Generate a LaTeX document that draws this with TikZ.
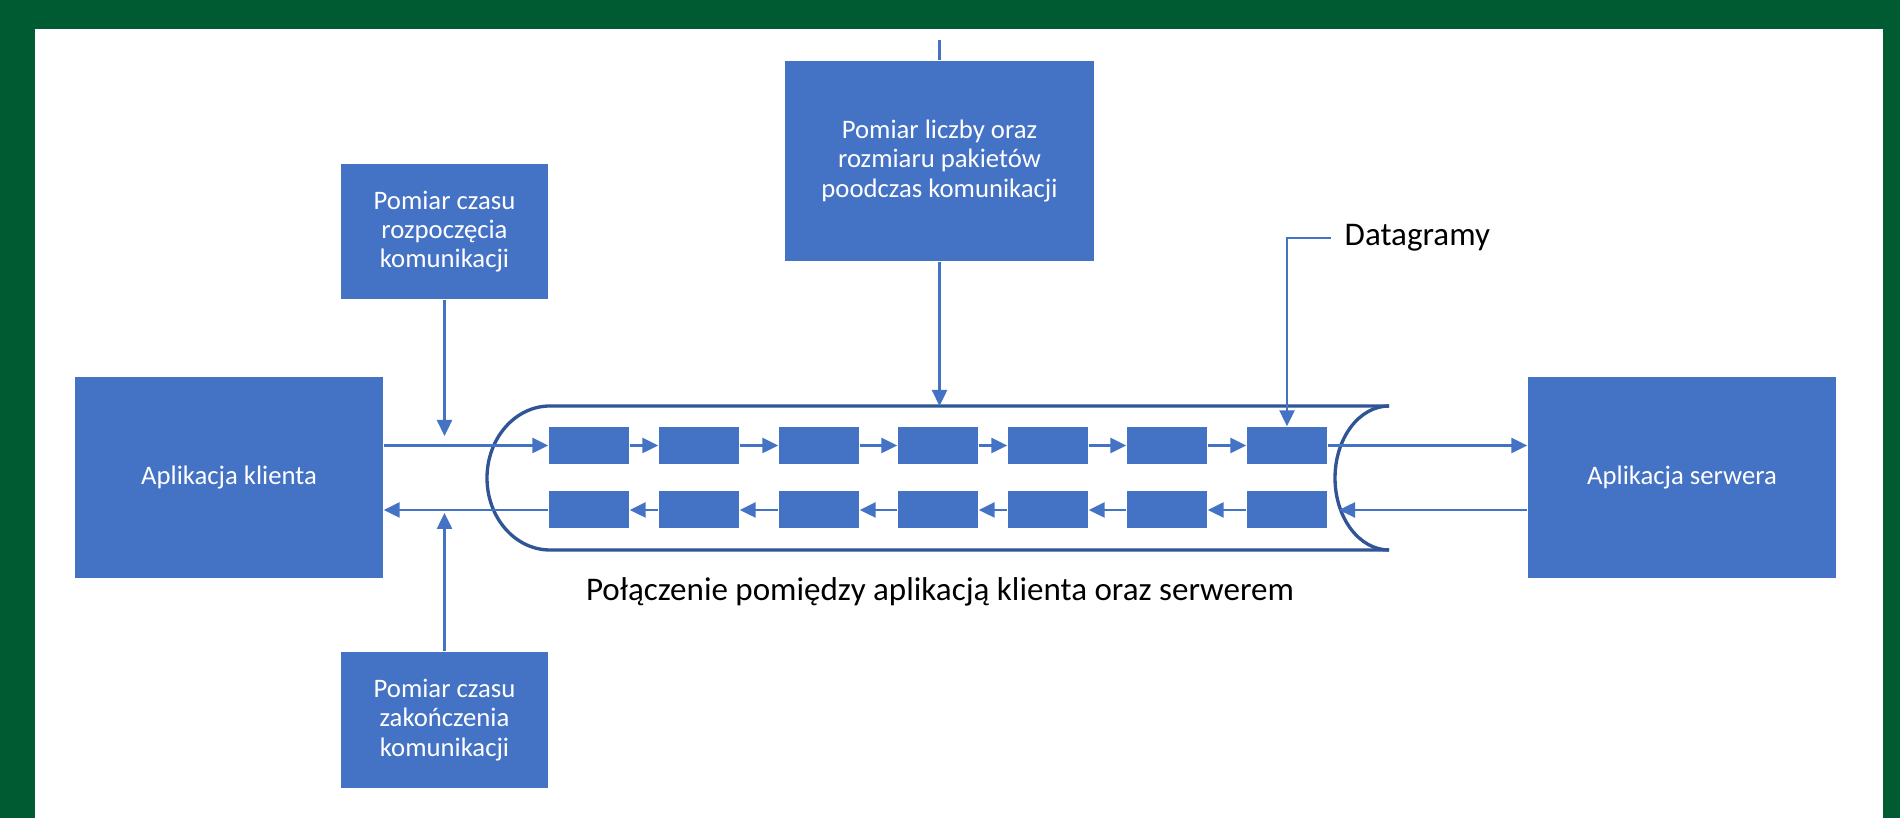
\documentclass[tikz,border=0pt]{standalone}
\usepackage{fontspec}
\setmainfont{Carlito}
\usetikzlibrary{arrows.meta}
\definecolor{bggreen}{RGB}{0,90,50}
\definecolor{boxblue}{RGB}{68,114,196}
\definecolor{tubeblue}{RGB}{47,85,151}
\tikzset{
  box/.style={fill=boxblue, text=white, align=center, inner sep=0pt, font=\fontsize{7.6}{8.3}\selectfont},
  pkt/.style={fill=boxblue, minimum width=0.8cm, minimum height=0.37cm, inner sep=0pt},
  wire/.style={draw=boxblue, line width=0.7pt},
  flow/.style={wire, -{Triangle[length=1.6mm,width=1.5mm]}},
  caption/.style={font=\fontsize{9.4}{11}\selectfont, text=black, inner sep=0pt}
}

\begin{document}
\begin{tikzpicture}
			\fill[bggreen] (0,0) rectangle (19,8.18); % Frame
			\fill[white] (0.35,0) rectangle (18.83,7.89); % Page
			\draw[tubeblue, line width=0.95pt] (13.89,4.12) -- (5.50,4.12) arc[start angle=90, end angle=270, x radius=0.63, y radius=0.72] -- (13.89,2.68); % Tube
			\draw[tubeblue, line width=0.95pt] (13.89,2.68) arc[start angle=-90, end angle=-270, x radius=0.54, y radius=0.72]; % Open end of tube
			\node[box, minimum width=3.08cm, minimum height=2.01cm] (client) at (2.29,3.405) {Aplikacja klienta}; % Client
			\node[box, minimum width=3.08cm, minimum height=2.01cm] (server) at (16.82,3.405) {Aplikacja serwera}; % Server
			\node[box, minimum width=3.09cm, minimum height=2.00cm] (count) at (9.395,6.57) {Pomiar liczby oraz\\rozmiaru pakietów\\poodczas komunikacji}; % Packet counter
			\node[box, minimum width=2.07cm, minimum height=1.35cm] (start) at (4.445,5.865) {Pomiar czasu\\rozpoczęcia\\komunikacji}; % Start time
			\node[box, minimum width=2.07cm, minimum height=1.36cm] (stop) at (4.445,0.98) {Pomiar czasu\\zakończenia\\komunikacji}; % End time
			\node[pkt] (p1) at (5.89,3.725) {}; % Packets going out
			\node[pkt] (p2) at (6.99,3.725) {};
			\node[pkt] (p3) at (8.19,3.725) {};
			\node[pkt] (p4) at (9.38,3.725) {};
			\node[pkt] (p5) at (10.48,3.725) {};
			\node[pkt] (p6) at (11.67,3.725) {};
			\node[pkt] (p7) at (12.87,3.725) {};
			\node[pkt] (q1) at (5.89,3.08) {}; % Packets coming back
			\node[pkt] (q2) at (6.99,3.08) {};
			\node[pkt] (q3) at (8.19,3.08) {};
			\node[pkt] (q4) at (9.38,3.08) {};
			\node[pkt] (q5) at (10.48,3.08) {};
			\node[pkt] (q6) at (11.67,3.08) {};
			\node[pkt] (q7) at (12.87,3.08) {};
			\coordinate (feed) at (9.395,7.78); % Line from above
			\coordinate (tubetop) at (9.395,4.12); % Top of tube
			\coordinate (starttip) at (4.445,3.82);
			\coordinate (stoptip) at (4.445,3.05);
			\coordinate (rim) at (13.39,3.08); % Open end, lower row
			\coordinate (bend) at (12.87,5.80);
			\draw[flow] (client.east |- p1) -- (p1.west);
			\draw[flow] (p1) -- (p2);
			\draw[flow] (p2) -- (p3);
			\draw[flow] (p3) -- (p4);
			\draw[flow] (p4) -- (p5);
			\draw[flow] (p5) -- (p6);
			\draw[flow] (p6) -- (p7);
			\draw[flow] (p7) -- (server.west |- p7);
			\draw[flow] (server.west |- q7) -- (rim);
			\draw[flow] (q7) -- (q6);
			\draw[flow] (q6) -- (q5);
			\draw[flow] (q5) -- (q4);
			\draw[flow] (q4) -- (q3);
			\draw[flow] (q3) -- (q2);
			\draw[flow] (q2) -- (q1);
			\draw[flow] (q1.west) -- (client.east |- q1);
			\draw[wire] (feed) -- (count);
			\draw[flow] (count) -- (tubetop);
			\draw[flow] (start) -- (starttip);
			\draw[flow] (stop) -- (stoptip);
			\node[caption, anchor=west, inner xsep=0.13cm] (dgram) at (13.31,5.80) {Datagramy}; % Label for packets
			\draw[flow] (dgram.west) -- (bend) -- (p7);
			\node[caption] (link) at (9.40,2.26) {Połączenie pomiędzy aplikacją klienta oraz serwerem}; % Label for tube
		\end{tikzpicture}
\end{document}
